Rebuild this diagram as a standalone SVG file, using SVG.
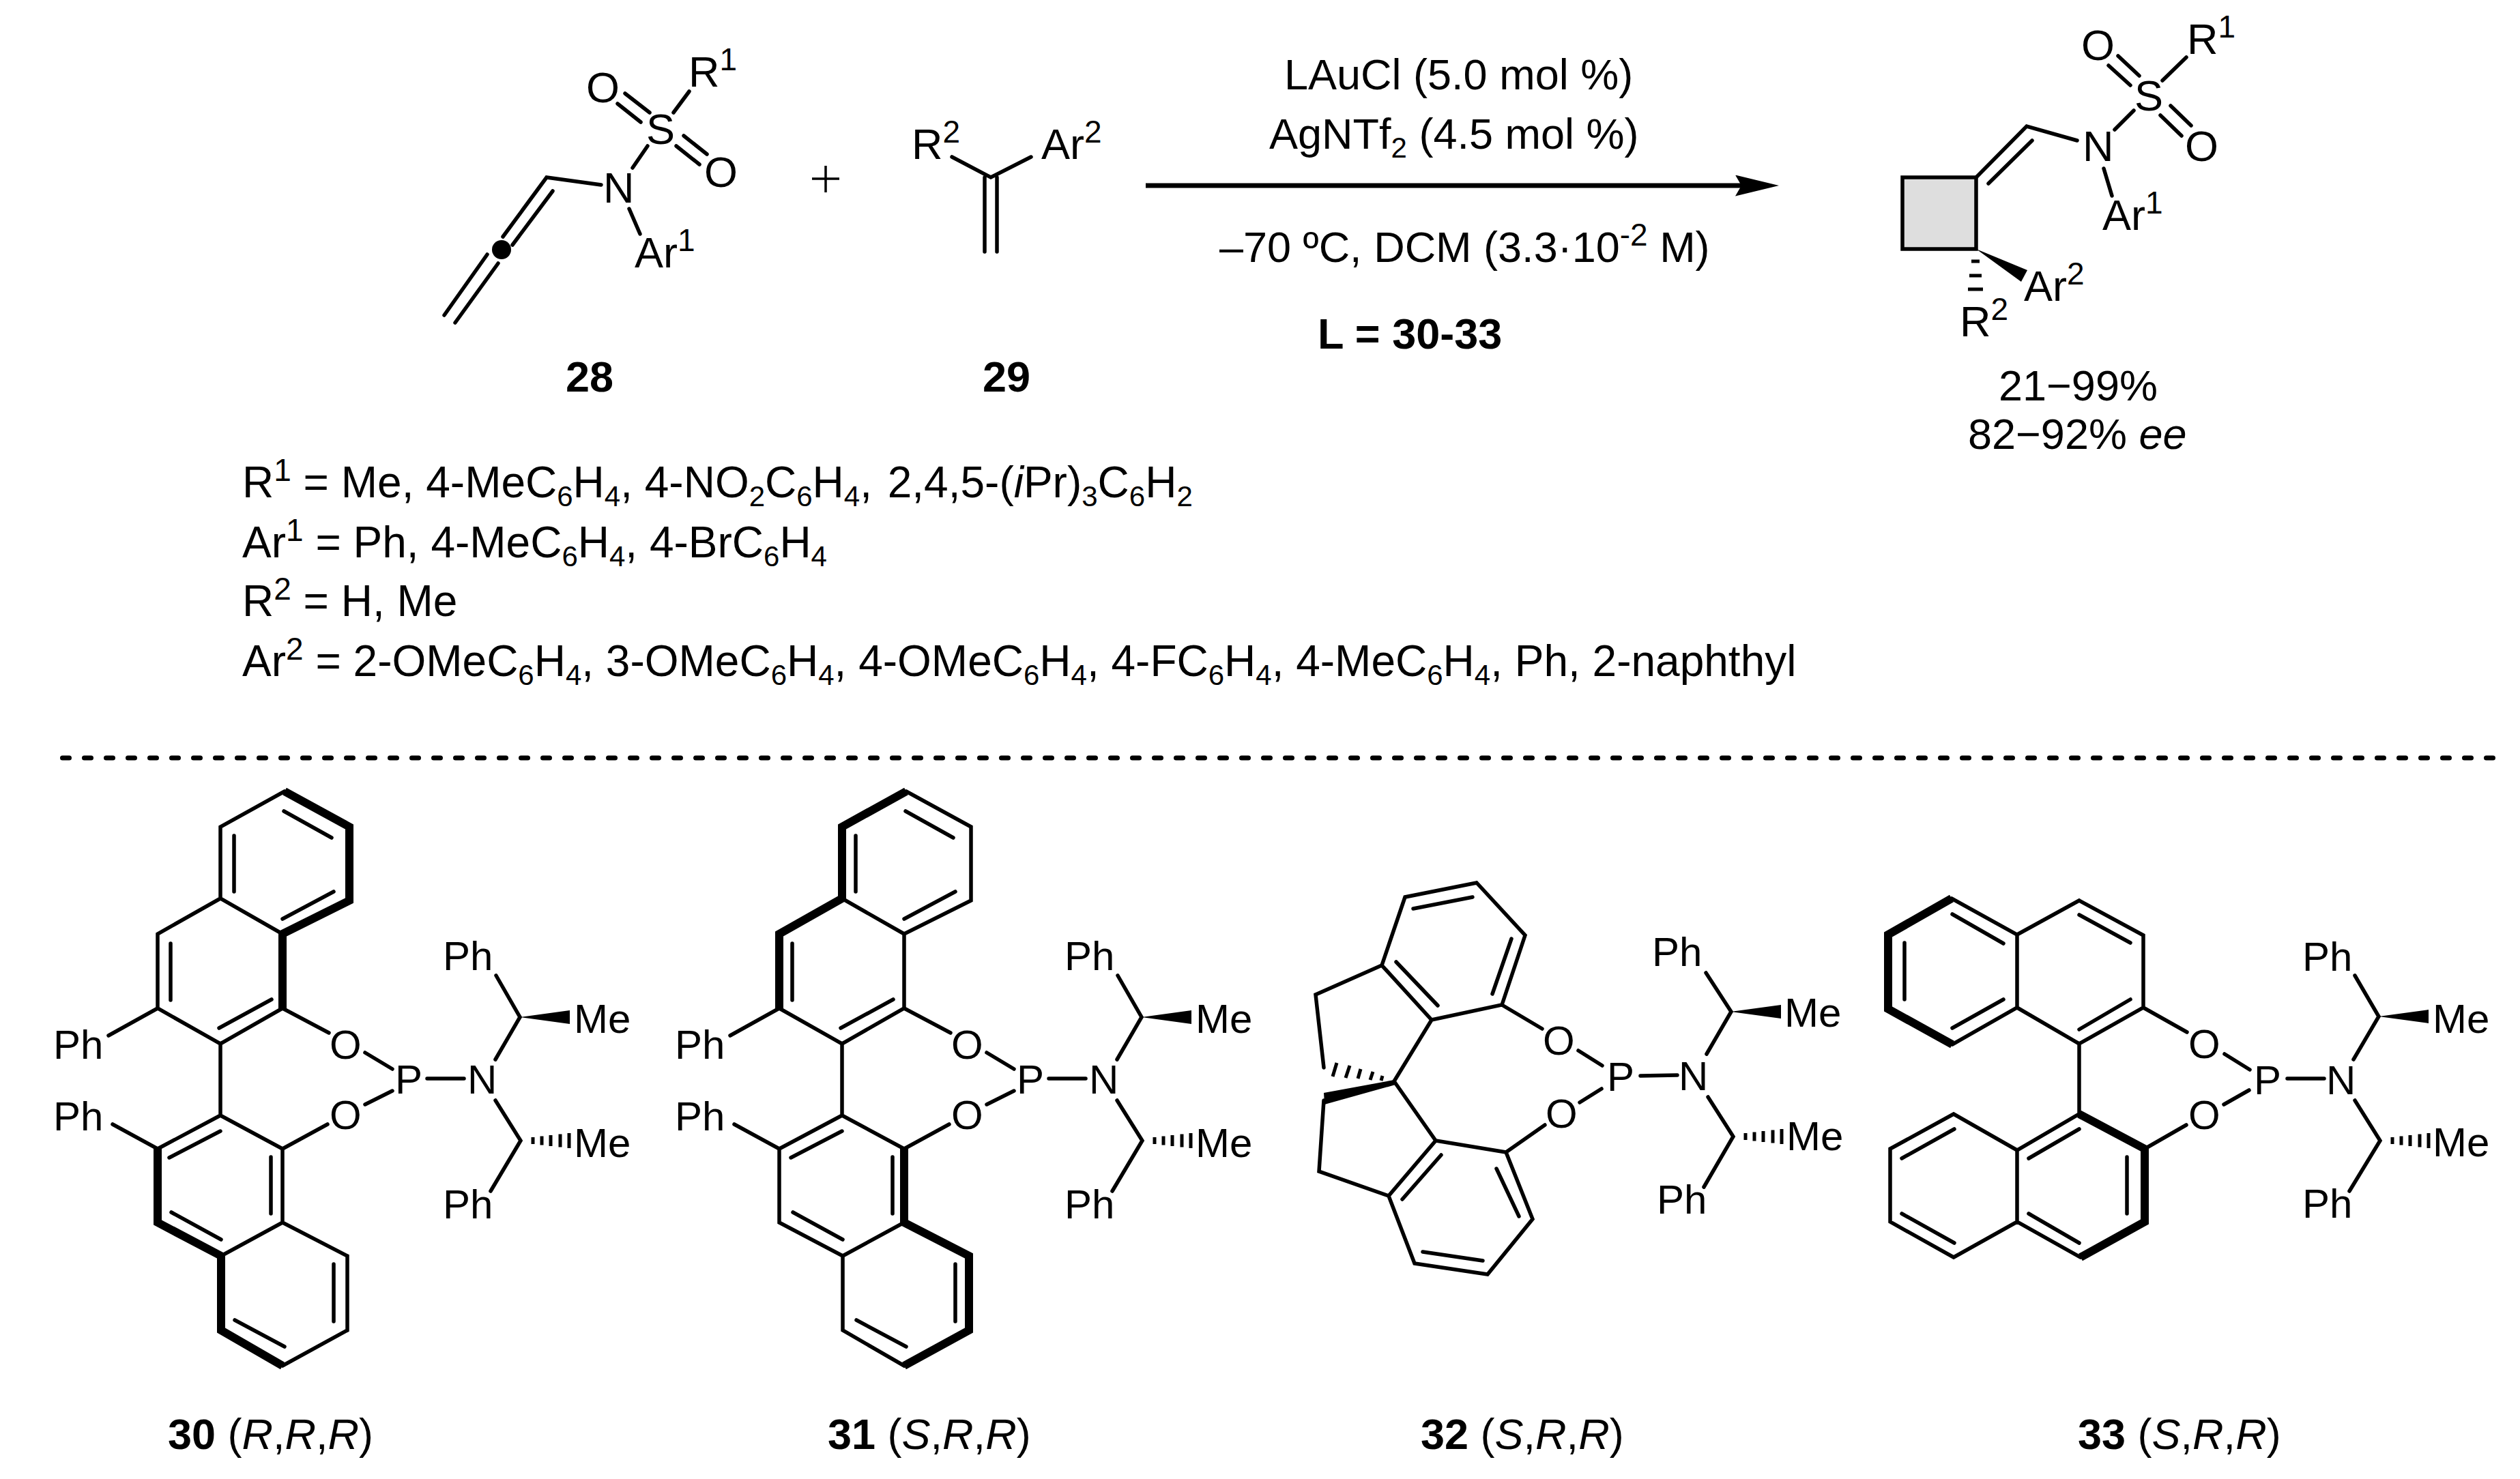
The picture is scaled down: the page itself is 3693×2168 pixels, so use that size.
<svg xmlns="http://www.w3.org/2000/svg" xmlns:xlink="http://www.w3.org/1999/xlink" width="3693" height="2168" viewBox="0 0 3693 2168">
<style>
text{font-family:"Liberation Sans",Arial,sans-serif;font-size:63px;fill:#000}
#substituents text{font-size:64px}
text.l{font-size:60px}
#substituents .sup,.sup{font-size:46px}
#substituents .sub,.sub{font-size:42px}
.bd{font-weight:bold}
.it{font-style:italic}
.b{fill:none;stroke:#000;stroke-width:5.5;stroke-linecap:round;stroke-linejoin:miter}
.B{fill:none;stroke:#000;stroke-width:12;stroke-linecap:butt;stroke-linejoin:miter}
.h{fill:none;stroke:#000;stroke-width:5;stroke-linecap:butt}
.w{fill:#000;stroke:none}
</style>
<defs>
<marker id="arrowhead" markerUnits="userSpaceOnUse" markerWidth="64" markerHeight="31" refX="9" refY="15.5" orient="auto"><path d="M0 0L64 15.5L0 31L9 15.5Z" fill="#000"/></marker>
<path id="hash-me" class="h" d="M18 -5v10M31 -6.5v13M44 -8v16M58 -9.5v19M71 -11v22"/>
<path id="wedge-me" class="w" d="M0 0L73 -10L73 10Z"/>
<path id="binaphthyl-inner" class="b" d="M343 1225V1307M416 1189L486 1228M489 1307L414 1347M250 1383V1466M321 1507L398 1465M323 1658L248 1697M397 1696V1779M251 1777L324 1817M489 1853V1937M417 1974L344 1935"/>
<path id="binaphthyl-link" class="b" d="M414 1478L482 1514M535 1543L575 1567M414 1684L480 1648M535 1619L575 1599M626 1581H680M726 1553L762 1491L727 1430M726 1613L763 1672L719 1746M231 1478L159 1518M231 1684L165 1648"/>
</defs>

<g id="connectors">
<line id="reaction-arrow" x1="1679" y1="272" x2="2552" y2="272" stroke="#000" stroke-width="7" marker-end="url(#arrowhead)"/>
<path id="plus" d="M1190 262H1230M1210 243V282" fill="none" stroke="#000" stroke-width="3.5"/>
<line id="separator" x1="91.5" y1="1111" x2="3665" y2="1111" stroke="#000" stroke-width="7" stroke-linecap="round" stroke-dasharray="10 22"/>
</g>

<g id="compound-28">
<path class="b" d="M987 165L1010 134M916 137L952 165M905 152L939 179M1002 199L1036 226M991 214L1025 241M949 214L927 246M881 271L801 260L737 347M810 280L751 359M714 373L651 462M730 386L667 473M922 306L938 343"/>
<circle cx="735" cy="366" r="14"/>
<text x="1009" y="127">R<tspan class="sup" dy="-24">1</tspan></text>
<text x="859" y="150">O</text><text x="947" y="211">S</text><text x="1032" y="274">O</text><text x="884" y="297">N</text>
<text x="930" y="392">Ar<tspan class="sup" dy="-24">1</tspan></text>
<text x="829" y="574" class="bd">28</text>
</g>

<g id="compound-29">
<path class="b" d="M1395 230L1452 260L1511 230M1443 260V369M1461 260V369"/>
<text x="1336" y="233">R<tspan class="sup" dy="-24">2</tspan></text>
<text x="1526" y="233">Ar<tspan class="sup" dy="-24">2</tspan></text>
<text x="1440" y="574" class="bd">29</text>
</g>

<g id="conditions">
<text x="1882" y="131">LAuCl (5.0 mol %)</text>
<text x="1860" y="218">AgNTf<tspan class="sub" dy="13">2</tspan><tspan dy="-13"> (4.5 mol %)</tspan></text>
<text x="1787" y="384">–70 ºC, DCM (3.3·10<tspan class="sup" dy="-24">-2</tspan><tspan dy="24"> M)</tspan></text>
<text x="1931" y="511" class="bd">L = 30-33</text>
</g>

<g id="product">
<rect x="2788" y="260" width="108" height="105" fill="#dedede" stroke="#000" stroke-width="5.5"/>
<path class="b" d="M2896 260L2970 185L3044 206M2914 269L2978 206M3127 162L3099 190M3169 118L3204 84M3104 82L3135 111M3090 96L3122 125M3181 155L3211 184M3166 169L3197 199M3083 247L3095 287"/>
<path class="w" d="M2896 365L2971 396L2962 413Z"/>
<path class="h" d="M2889 383H2901M2886 404H2904M2884 424H2906"/>
<text x="3205" y="79">R<tspan class="sup" dy="-24">1</tspan></text>
<text x="3050" y="88">O</text><text x="3128" y="162">S</text><text x="3202" y="236">O</text><text x="3052" y="236">N</text>
<text x="3081" y="337">Ar<tspan class="sup" dy="-24">1</tspan></text>
<text x="2966" y="441">Ar<tspan class="sup" dy="-24">2</tspan></text>
<text x="2872" y="493">R<tspan class="sup" dy="-24">2</tspan></text>
<text x="2929" y="587">21−99%</text>
<text x="2884" y="658">82−92% <tspan class="it">ee</tspan></text>
</g>

<g id="substituents">
<text x="355" y="729">R<tspan class="sup" dy="-24">1</tspan><tspan dy="24"> = Me, 4-MeC</tspan><tspan class="sub" dy="13">6</tspan><tspan dy="-13">H</tspan><tspan class="sub" dy="13">4</tspan><tspan dy="-13">, 4-NO</tspan><tspan class="sub" dy="13">2</tspan><tspan dy="-13">C</tspan><tspan class="sub" dy="13">6</tspan><tspan dy="-13">H</tspan><tspan class="sub" dy="13">4</tspan><tspan dy="-13">, </tspan><tspan dx="5">2,4,5-(</tspan><tspan class="it">i</tspan><tspan>Pr)</tspan><tspan class="sub" dy="13">3</tspan><tspan dy="-13">C</tspan><tspan class="sub" dy="13">6</tspan><tspan dy="-13">H</tspan><tspan class="sub" dy="13">2</tspan></text>
<text x="355" y="817">Ar<tspan class="sup" dy="-24">1</tspan><tspan dy="24"> = Ph, 4-MeC</tspan><tspan class="sub" dy="13">6</tspan><tspan dy="-13">H</tspan><tspan class="sub" dy="13">4</tspan><tspan dy="-13">, 4-BrC</tspan><tspan class="sub" dy="13">6</tspan><tspan dy="-13">H</tspan><tspan class="sub" dy="13">4</tspan></text>
<text x="355" y="903">R<tspan class="sup" dy="-24">2</tspan><tspan dy="24"> = H, Me</tspan></text>
<text x="355" y="991">Ar<tspan class="sup" dy="-24">2</tspan><tspan dy="24"> = 2-OMeC</tspan><tspan class="sub" dy="13">6</tspan><tspan dy="-13">H</tspan><tspan class="sub" dy="13">4</tspan><tspan dy="-13">, 3-OMeC</tspan><tspan class="sub" dy="13">6</tspan><tspan dy="-13">H</tspan><tspan class="sub" dy="13">4</tspan><tspan dy="-13">, 4-OMeC</tspan><tspan class="sub" dy="13">6</tspan><tspan dy="-13">H</tspan><tspan class="sub" dy="13">4</tspan><tspan dy="-13">, 4-FC</tspan><tspan class="sub" dy="13">6</tspan><tspan dy="-13">H</tspan><tspan class="sub" dy="13">4</tspan><tspan dy="-13">, 4-MeC</tspan><tspan class="sub" dy="13">6</tspan><tspan dy="-13">H</tspan><tspan class="sub" dy="13">4</tspan><tspan dy="-13">, Ph, 2-naphthyl</tspan></text>
</g>

<g id="ligand-30">
<path class="b" d="M417 1160L323 1212V1317L414 1369M323 1317L231 1369V1478L323 1530L414 1478M323 1530V1635L231 1684M323 1635L414 1684V1792L324 1841M414 1792L509 1841V1950L414 2002"/>
<path class="B" d="M417 1160L512 1212V1320L414 1369V1478"/>
<path class="B" d="M231 1684V1792L324 1841V1950L414 2002"/>
<use href="#binaphthyl-inner"/><use href="#binaphthyl-link"/>
<use href="#wedge-me" x="762" y="1491"/><use href="#hash-me" x="763" y="1672"/>
<text class="l" x="483" y="1552">O</text><text class="l" x="483" y="1655">O</text><text class="l" x="579" y="1603">P</text><text class="l" x="685" y="1603">N</text>
<text class="l" x="649" y="1422">Ph</text><text class="l" x="649" y="1786">Ph</text><text class="l" x="78" y="1552">Ph</text><text class="l" x="78" y="1657">Ph</text>
<text class="l" x="841" y="1514">Me</text><text class="l" x="841" y="1696">Me</text>
<text x="246" y="2124"><tspan class="bd">30</tspan> (<tspan class="it">R</tspan>,<tspan class="it">R</tspan>,<tspan class="it">R</tspan>)</text>
</g>

<g id="ligand-31">
<g transform="translate(911 0)">
<path class="b" d="M417 1160L512 1212V1320L414 1369V1478L323 1530L231 1478M414 1369L323 1317M323 1530V1635L231 1684V1792L324 1841V1950L414 2002M323 1635L414 1684M414 1792L324 1841"/>
<path class="B" d="M417 1160L323 1212V1317L231 1369V1478"/>
<path class="B" d="M414 1684V1792L509 1841V1950L414 2002"/>
<use href="#binaphthyl-inner"/><use href="#binaphthyl-link"/>
<use href="#wedge-me" x="762" y="1491"/><use href="#hash-me" x="763" y="1672"/>
<text class="l" x="483" y="1552">O</text><text class="l" x="483" y="1655">O</text><text class="l" x="579" y="1603">P</text><text class="l" x="685" y="1603">N</text>
<text class="l" x="649" y="1422">Ph</text><text class="l" x="649" y="1786">Ph</text><text class="l" x="78" y="1552">Ph</text><text class="l" x="78" y="1657">Ph</text>
<text class="l" x="841" y="1514">Me</text><text class="l" x="841" y="1696">Me</text>
</g>
<text x="1213" y="2124"><tspan class="bd">31</tspan> (<tspan class="it">S</tspan>,<tspan class="it">R</tspan>,<tspan class="it">R</tspan>)</text>
</g>

<g id="ligand-32">
<path class="b" d="M2164 1294L2235 1371L2201 1473L2098 1495L2025 1415L2059 1315L2164 1294M2158 1315L2071 1332M2215 1376L2187 1457M2046 1410L2107 1474M2025 1415L1928 1458L1940 1565M2098 1495L2043 1585L2104 1672L2207 1689L2246 1787L2180 1868L2073 1852L2035 1753L2104 1672M2055 1758L2112 1693M2193 1713L2226 1783M2173 1848L2085 1835M1940 1613L1933 1717L2035 1753M2201 1473L2260 1508M2313 1540L2348 1562M2207 1689L2264 1649M2315 1616L2347 1596M2404 1577L2458 1576M2501 1545L2537 1483L2500 1426M2503 1608L2540 1666L2497 1740"/>
<path class="h" d="M1953 1578L1959 1558M1972 1580L1978 1562M1990 1581L1994 1567M2008 1583L2012 1571M2024 1584L2026 1577"/>
<path class="w" d="M2043 1583L1940 1602L1941 1619L2045 1590Z"/>
<use href="#wedge-me" x="2537" y="1483"/><use href="#hash-me" x="2540" y="1666"/>
<text class="l" x="2261" y="1546">O</text><text class="l" x="2265" y="1653">O</text><text class="l" x="2355" y="1599">P</text><text class="l" x="2460" y="1598">N</text>
<text class="l" x="2421" y="1416">Ph</text><text class="l" x="2428" y="1779">Ph</text>
<text class="l" x="2615" y="1505">Me</text><text class="l" x="2618" y="1686">Me</text>
<text x="2082" y="2124"><tspan class="bd">32</tspan> (<tspan class="it">S</tspan>,<tspan class="it">R</tspan>,<tspan class="it">R</tspan>)</text>
</g>

<g id="ligand-33">
<path class="b" d="M2860 1317L2956 1370V1477L2861 1531M2956 1370L3047 1320L3141 1371V1477L3047 1530L2956 1477M2861 1340L2936 1383M2791 1382V1465M2861 1507L2936 1465M3047 1341L3122 1382M3122 1465L3047 1509M3047 1530V1633L2956 1686V1791L3049 1843M2956 1686L2863 1633L2770 1684V1791L2863 1843L2956 1791M3047 1655L2973 1698M3117 1696V1779M3047 1822L2973 1779M2864 1655L2787 1698M2787 1779L2864 1822M3141 1477L3205 1513M3260 1545L3297 1568M3143 1684L3204 1649M3259 1619L3296 1598M3352 1581H3406M3449 1553L3486 1490L3451 1430M3451 1613L3488 1672L3443 1746"/>
<path class="B" d="M2860 1317L2767 1370V1479L2861 1531"/>
<path class="B" d="M3047 1633L3143 1684V1791L3049 1843"/>
<use href="#wedge-me" x="3486" y="1490"/><use href="#hash-me" x="3488" y="1672"/>
<text class="l" x="3207" y="1551">O</text><text class="l" x="3207" y="1655">O</text><text class="l" x="3303" y="1604">P</text><text class="l" x="3409" y="1604">N</text>
<text class="l" x="3374" y="1423">Ph</text><text class="l" x="3374" y="1785">Ph</text>
<text class="l" x="3565" y="1514">Me</text><text class="l" x="3565" y="1695">Me</text>
<text x="3045" y="2124"><tspan class="bd">33</tspan> (<tspan class="it">S</tspan>,<tspan class="it">R</tspan>,<tspan class="it">R</tspan>)</text>
</g>
</svg>
